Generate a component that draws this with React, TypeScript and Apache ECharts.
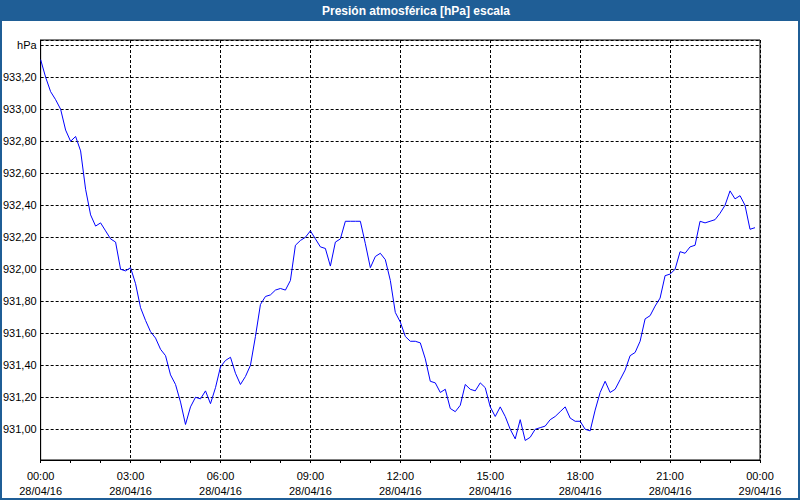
import React, { useEffect, useRef } from "react";
import * as echarts from "echarts";

const TITLE = "Presión atmosférica [hPa] escala";
const UNIT = "hPa";
const DAY1 = "28/04/16";
const DAY2 = "29/04/16";
// sampling: one reading every 10 minutes from 00:00
const STEP_MIN = 10;
const pressure = [
  933.31, 933.2, 933.11, 933.06, 933.0, 932.87, 932.8, 932.83, 932.74, 932.5,
  932.34, 932.27, 932.29, 932.24, 932.19, 932.17, 932.0, 931.99, 932.01, 931.91,
  931.76, 931.68, 931.61, 931.57, 931.5, 931.46, 931.34, 931.28, 931.17, 931.03,
  931.14, 931.2, 931.19, 931.24, 931.16, 931.26, 931.39, 931.43, 931.45, 931.35,
  931.28, 931.33, 931.4, 931.58, 931.78, 931.83, 931.84, 931.87, 931.88, 931.87,
  931.93, 932.15, 932.18, 932.2, 932.24, 932.19, 932.14, 932.13, 932.02, 932.17,
  932.19, 932.3, 932.3, 932.3, 932.3, 932.16, 932.01, 932.08, 932.1, 932.06,
  931.93, 931.73, 931.67, 931.58, 931.55, 931.55, 931.54, 931.44, 931.3, 931.29,
  931.23, 931.25, 931.13, 931.11, 931.15, 931.28, 931.25, 931.24, 931.29, 931.26,
  931.14, 931.08, 931.14, 931.08, 931.0, 930.94, 931.06, 930.93, 930.95, 931.0,
  931.01, 931.02, 931.06, 931.08, 931.11, 931.14, 931.07, 931.05, 931.05, 931.0,
  930.99, 931.12, 931.23, 931.3, 931.23, 931.25, 931.31, 931.37, 931.46, 931.48,
  931.55, 931.69, 931.71, 931.77, 931.82, 931.96, 931.97, 932.0, 932.11, 932.1,
  932.14, 932.15, 932.3, 932.29, 932.3, 932.31, 932.35, 932.4, 932.49, 932.44,
  932.46, 932.4, 932.25, 932.26,
];
const Y_MIN = 930.808;
const Y_MAX = 933.433;

const pad = (n: number) => (n < 10 ? "0" + n : "" + n);

export default function App() {
  const ref = useRef<HTMLDivElement>(null);
  useEffect(() => {
    if (!ref.current) return;
    const chart = echarts.init(ref.current, undefined, { renderer: "svg" });
    const data = pressure.map((v, i) => [(i * STEP_MIN) / 60, v]);
    const font = "Liberation Sans";
    chart.setOption({
      animation: false,
      backgroundColor: "#ffffff",
      graphic: [
        {
          type: "rect",
          shape: { x: 0, y: 0, width: 800, height: 21 },
          style: { fill: "#1f5e96" },
          z: 10,
        },
        {
          type: "rect",
          shape: { x: 1, y: 1, width: 798, height: 498 },
          style: { fill: "none", stroke: "#1f5e96", lineWidth: 2 },
          z: 10,
        },
        {
          type: "text",
          x: 416,
          y: 11,
          style: {
            text: TITLE,
            fill: "#ffffff",
            font: `bold 12px "${font}"`,
            align: "center",
            verticalAlign: "middle",
          },
          z: 11,
        },
      ],
      grid: {
        left: 40,
        right: 40,
        top: 40,
        bottom: 40,
        show: true,
        borderColor: "#000",
        borderWidth: 1,
        backgroundColor: "#fff",
      },
      xAxis: {
        type: "value",
        min: 0,
        max: 24,
        interval: 3,
        axisLine: { show: true, lineStyle: { color: "#000", width: 1 } },
        axisTick: { show: true, length: 3, lineStyle: { color: "#000" } },
        minorTick: { show: true, splitNumber: 3, length: 3, lineStyle: { color: "#000" } },
        splitLine: { show: true, lineStyle: { color: "#000", type: [3, 2], width: 1 } },
        axisLabel: {
          color: "#000",
          fontFamily: font,
          fontSize: 11,
          lineHeight: 15,
          margin: 8,
          formatter: (v: number) =>
            `${pad(Math.round(v) % 24)}:00\n${v < 24 ? DAY1 : DAY2}`,
        },
      },
      yAxis: {
        type: "value",
        min: Y_MIN,
        max: Y_MAX,
        splitNumber: 13,
        minInterval: 0.2,
        maxInterval: 0.2,
        axisLine: { show: true, lineStyle: { color: "#000", width: 1 } },
        axisTick: { show: false },
        splitLine: { show: true, lineStyle: { color: "#000", type: [3, 2], width: 1 } },
        axisLabel: {
          color: "#000",
          fontFamily: font,
          fontSize: 11,
          margin: 4,
          showMinLabel: false,
          showMaxLabel: false,
          formatter: (v: number) =>
            Math.abs(v - 933.4) < 1e-6 ? UNIT : v.toFixed(2).replace(".", ","),
        },
      },
      series: [
        {
          type: "line",
          data,
          showSymbol: false,
          symbol: "none",
          lineStyle: { color: "#0000ff", width: 1 },
        },
      ],
    });
    return () => chart.dispose();
  }, []);
  return (
    <div
      ref={ref}
      style={{ position: "absolute", left: 0, top: 0, width: 800, height: 500 }}
    />
  );
}
